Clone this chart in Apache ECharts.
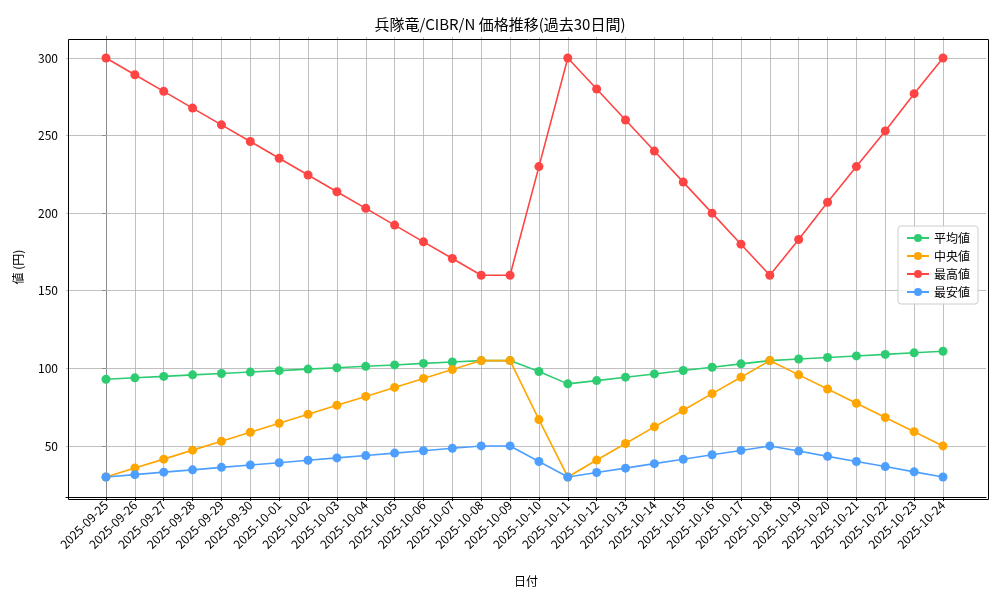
<!DOCTYPE html>
<html lang="ja">
<head>
<meta charset="UTF-8">
<title>価格推移</title>
<script src="https://cdn.jsdelivr.net/npm/echarts@6/dist/echarts.min.js"></script>
<style>
    *{margin:0;padding:0;}
    #box{width:1000px;height:600px;background:#fff;}
</style>
</head>
<body>
<div id="box"></div>
<script>
    var dates = ['2025-09-25','2025-09-26','2025-09-27','2025-09-28','2025-09-29','2025-09-30','2025-10-01','2025-10-02','2025-10-03','2025-10-04','2025-10-05','2025-10-06','2025-10-07','2025-10-08','2025-10-09','2025-10-10','2025-10-11','2025-10-12','2025-10-13','2025-10-14','2025-10-15','2025-10-16','2025-10-17','2025-10-18','2025-10-19','2025-10-20','2025-10-21','2025-10-22','2025-10-23','2025-10-24'];
    var avgVals = [93,93.9,94.8,95.8,96.7,97.6,98.5,99.5,100.4,101.3,102.2,103.2,104.1,105,105,98,90,92.1,94.3,96.4,98.6,100.7,102.9,105,106,107,108,109,110,111];
    var medVals = [30,35.8,41.5,47.3,53,58.8,64.6,70.4,76.2,81.9,87.7,93.5,99.2,105,105,67,30,40.9,51.6,62.3,73,83.7,94.3,105,95.8,86.7,77.5,68.3,59.2,50];
    var maxVals = [300,289.2,278.5,267.7,256.9,246.2,235.4,224.6,213.8,203.1,192.3,181.5,170.8,160,160,230,300,280,260,240,220,200,180,160,183,207,230,253,277,300];
    var minVals = [30,31.5,33.1,34.6,36.2,37.7,39.2,40.8,42.3,43.8,45.4,46.9,48.5,50,50,40,30,32.9,35.7,38.6,41.4,44.3,47.1,50,46.7,43.3,40,36.7,33.3,30];
    var yTicks = [50,100,150,200,250,300];

    var font = '"Noto Sans CJK JP", "DejaVu Sans", sans-serif';
    var xIdx = dates.map(function(d,i){return i;});
    function pts(arr){ return arr.map(function(v,i){return [i,v];}); }

    var gridLines = [];
    xIdx.forEach(function(i){ gridLines.push({xAxis:i}); });
    yTicks.forEach(function(v){ gridLines.push({yAxis:v}); });

    function mk(name, color, data, withGrid){
        var s = {
            name:name, type:'line', data:pts(data),
            symbol:'circle', symbolSize:9,
            lineStyle:{color:color,width:1.6},
            itemStyle:{color:color},
            z:3
        };
        if(withGrid){
            s.markLine = {
                silent:true, symbol:'none', label:{show:false},
                lineStyle:{color:'#b0b0b0',width:0.8,type:'solid'},
                data:gridLines, z:1
            };
        }
        return s;
    }

    var myChart = echarts.init(document.getElementById('box'));
    var option = {
        animation:false,
        textStyle:{fontFamily:font},
        title:{text:'兵隊竜/CIBR/N 価格推移(過去30日間)',left:'center',top:12,
            textStyle:{fontSize:15,fontWeight:'normal',color:'#000',fontFamily:font}},
        legend:{
            orient:'vertical', right:22, top:226,
            backgroundColor:'rgba(255,255,255,0.85)', borderColor:'#ccc', borderWidth:1, borderRadius:3,
            padding:[6,8], itemGap:6, itemWidth:22, itemHeight:10,
            textStyle:{fontSize:12,color:'#000',fontFamily:font},
            data:['平均値','中央値','最高値','最安値']
        },
        grid:{left:66,right:14,top:37,bottom:103,containLabel:false},
        xAxis:{
            type:'value', min:-1.386, max:30.49,
            name:'日付', nameLocation:'middle', nameGap:78,
            nameTextStyle:{fontSize:12,color:'#000'},
            axisLine:{show:true,onZero:false,lineStyle:{color:'#000'}},
            axisTick:{show:true,customValues:xIdx,length:4,lineStyle:{color:'#000'}},
            axisLabel:{customValues:xIdx,rotate:45,fontSize:12,color:'#000',margin:6,
                formatter:function(v){return dates[Math.round(v)]||'';}},
            splitLine:{show:false}
        },
        yAxis:{
            type:'value', min:17.1, max:313.5,
            name:'値 (円)', nameLocation:'middle', nameGap:42, nameRotate:90,
            nameTextStyle:{fontSize:12,color:'#000'},
            axisLine:{show:true,lineStyle:{color:'#000'}},
            axisTick:{show:true,customValues:yTicks,length:4,lineStyle:{color:'#000'}},
            axisLabel:{customValues:yTicks,fontSize:12,color:'#000'},
            splitLine:{show:false}
        },
        series:[
            mk('平均値','#2ecc71',avgVals,true),
            mk('中央値','#ffa500',medVals,false),
            mk('最高値','#ff4444',maxVals,false),
            mk('最安値','#4d9fff',minVals,false)
        ],
        graphic:[{type:'rect',left:66,top:37,shape:{width:920,height:460},
            style:{fill:'none',stroke:'#000',lineWidth:1},silent:true,z:10}]
    };
    myChart.setOption(option);
</script>
</body>
</html>
